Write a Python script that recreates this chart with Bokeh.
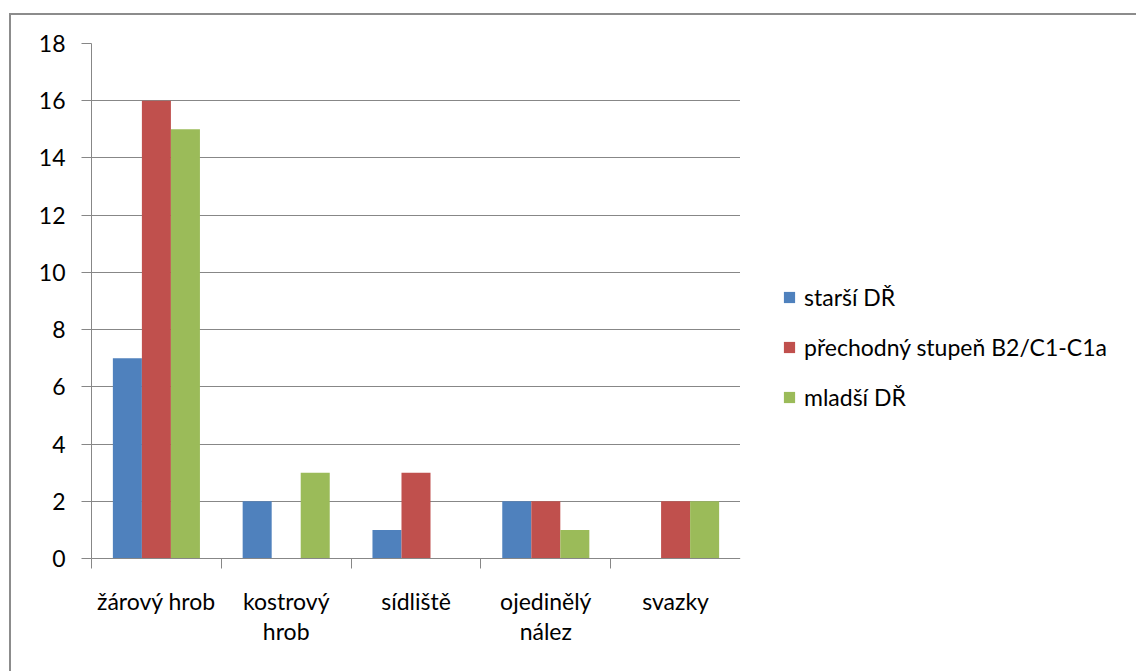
from bokeh.plotting import figure
from bokeh.layouts import row
from bokeh.models import (ColumnDataSource, Range1d, FixedTicker, Legend, LegendItem)
from bokeh.transform import dodge
from bokeh.embed import file_html
from bokeh.resources import INLINE

categories = ["žárový hrob", "kostrový\nhrob", "sídliště", "ojedinělý\nnález", "svazky"]
series_names = ["starší DŘ", "přechodný stupeň B2/C1-C1a", "mladší DŘ"]
starsi = [7, 2, 1, 2, 0]
prechodny = [16, 0, 3, 2, 2]
mladsi = [15, 3, 0, 1, 2]
y_ticks = [0, 2, 4, 6, 8, 10, 12, 14, 16, 18]
colors = ["#4F81BD", "#C0504D", "#9BBB59"]

FONT = "Lato"
FS = "23px"
GRID = "#878787"

n = len(categories)
centers = [i + 0.5 for i in range(n)]
src = ColumnDataSource(dict(x=centers, s0=starsi, s1=prechodny, s2=mladsi))

H = 656
p = figure(width=729, height=H, output_backend="svg", toolbar_location=None,
           x_range=Range1d(0, n), y_range=Range1d(0, 18),
           min_border_left=80, min_border_right=0, min_border_top=28, min_border_bottom=113)
p.outline_line_color = None
p.background_fill_color = "white"

bw = 0.2236
offsets = [-bw, 0.0, bw]
for k, col in enumerate(["s0", "s1", "s2"]):
    p.vbar(x=dodge("x", offsets[k], range=p.x_range), top=col, bottom=0, width=bw,
           source=src, fill_color=colors[k], line_color=None)

# grid
p.xgrid.visible = False
p.ygrid.ticker = FixedTicker(ticks=y_ticks)
p.ygrid.grid_line_color = GRID
p.ygrid.grid_line_width = 1

# y axis
p.yaxis.ticker = FixedTicker(ticks=y_ticks)
p.yaxis.axis_line_color = GRID
p.yaxis.major_tick_line_color = GRID
p.yaxis.major_tick_out = 10
p.yaxis.major_tick_in = 0
p.yaxis.minor_tick_line_color = None
p.yaxis.major_label_standoff = 16
p.yaxis.major_label_text_font = FONT
p.yaxis.major_label_text_font_size = FS
p.yaxis.major_label_text_color = "#000000"

# x axis: labels at category centres, boundary ticks as minor ticks
p.xaxis.ticker = FixedTicker(ticks=centers, minor_ticks=list(range(n + 1)))
p.xaxis.major_label_overrides = {c: lab for c, lab in zip(centers, categories)}
p.xaxis.axis_line_color = GRID
p.xaxis.major_tick_line_color = None
p.xaxis.major_tick_out = 10
p.xaxis.major_tick_in = 0
p.xaxis.minor_tick_line_color = GRID
p.xaxis.minor_tick_out = 10
p.xaxis.minor_tick_in = 0
p.xaxis.major_label_standoff = 18
p.xaxis.major_label_text_font = FONT
p.xaxis.major_label_text_font_size = FS
p.xaxis.major_label_text_color = "#000000"
p.xaxis.major_label_text_line_height = 1.09

# legend panel (separate figure, legend-only proxy glyphs placed outside its range)
p2 = figure(width=396, height=H, output_backend="svg", toolbar_location=None,
            x_range=Range1d(0, 1), y_range=Range1d(0, 1),
            min_border_left=0, min_border_right=0, min_border_top=0, min_border_bottom=0)
p2.axis.visible = False
p2.grid.visible = False
p2.outline_line_color = None
proxies = [p2.vbar(x=[-5], top=[-5], bottom=[-6], width=0.1, fill_color=colors[k],
                   line_color=None)
           for k in range(3)]

legend = Legend(items=[LegendItem(label=series_names[k], renderers=[proxies[k]])
                       for k in range(3)],
                location=(42, 147), orientation="vertical")
legend.glyph_width = 14
legend.glyph_height = 14
legend.label_height = 20
legend.spacing = 22
legend.label_standoff = 8
legend.padding = 0
legend.margin = 0
legend.border_line_color = None
legend.background_fill_alpha = 0
legend.label_text_font = FONT
legend.label_text_font_size = FS
legend.label_text_color = "#000000"
p2.add_layout(legend)

layout = row(p, p2, spacing=0)
layout.styles = {"border-left": "2px solid #8c8c8c", "border-top": "2px solid #8c8c8c",
                 "margin-left": "9px", "margin-top": "13px"}

open("out.html", "w").write(file_html(layout, INLINE))
